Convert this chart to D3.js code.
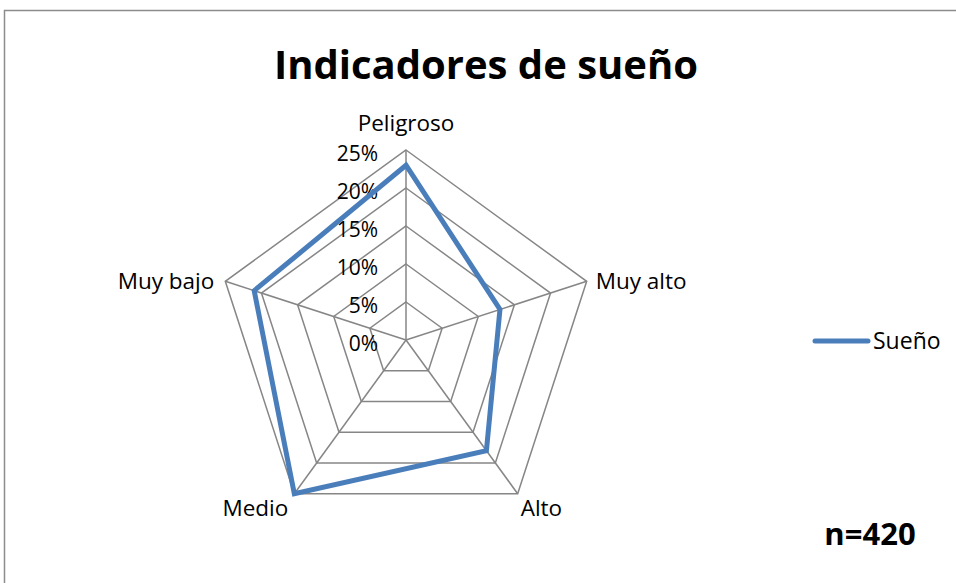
<!doctype html>
<html>
<head>
<meta charset="utf-8">
<script src="https://cdn.jsdelivr.net/npm/d3@7/dist/d3.min.js"></script>
<style>
  body { margin: 0; background: #fff; }
  svg { display: block; font-family: "Open Sans", "Liberation Sans", sans-serif; }
</style>
</head>
<body>
<svg width="956" height="583"></svg>
<script>
// chart data
var categories = ["Peligroso", "Muy alto", "Alto", "Medio", "Muy bajo"];
var values = [0.23, 0.13, 0.18, 0.25, 0.21];
var ticks = [0, 0.05, 0.10, 0.15, 0.20, 0.25];
var seriesName = "Sueño";

var svg = d3.select("svg");
var cx = 406, cy = 340, R = 190;

svg.append("rect")
   .attr("x", 4.5).attr("y", 10.5)
   .attr("width", 960).attr("height", 600)
   .attr("fill", "#fff").attr("stroke", "#8c8c8c").attr("stroke-width", 1.5);

var r = d3.scaleLinear().domain([0, 0.25]).range([0, R]);
var angle = d3.scaleBand().domain(categories).range([0, 2 * Math.PI]);
function pt(c, v) {
  var a = angle(c);
  return [cx + r(v) * Math.sin(a), cy - r(v) * Math.cos(a)];
}

var g = svg.append("g");

// grid rings
ticks.forEach(function(t) {
  if (t === 0) return;
  g.append("polygon")
   .attr("points", categories.map(function(c) { return pt(c, t).join(","); }).join(" "))
   .attr("fill", "none").attr("stroke", "#868686").attr("stroke-width", 1.5);
});
// spokes
categories.forEach(function(c) {
  var p = pt(c, 0.25);
  g.append("line").attr("x1", cx).attr("y1", cy).attr("x2", p[0]).attr("y2", p[1])
   .attr("stroke", "#868686").attr("stroke-width", 1.5);
});

// tick labels
g.selectAll(".tick").data(ticks).enter().append("text")
 .attr("x", cx - 28).attr("y", function(d) { return cy - r(d) + 11; })
 .attr("text-anchor", "end").attr("font-size", 21).attr("fill", "#000")
 .text(d3.format(".0%"));

// series
var line = d3.line().curve(d3.curveLinearClosed);
g.append("path")
 .attr("d", line(categories.map(function(c, i) { return pt(c, values[i]); })))
 .attr("fill", "none").attr("stroke", "#4a7ebb").attr("stroke-width", 5)
 .attr("stroke-linejoin", "miter");

// category labels
var lab = [
  { dx: 0, dy: -19, anchor: "middle" },
  { dx: 9, dy: 8, anchor: "start" },
  { dx: 3, dy: 22, anchor: "start" },
  { dx: -6, dy: 22, anchor: "end" },
  { dx: -11, dy: 8, anchor: "end" }
];
categories.forEach(function(c, i) {
  var p = pt(c, 0.25);
  g.append("text").attr("x", p[0] + lab[i].dx).attr("y", p[1] + lab[i].dy)
   .attr("text-anchor", lab[i].anchor).attr("font-size", 22.5).attr("fill", "#000")
   .text(c);
});

// title
svg.append("text").attr("x", 486).attr("y", 79).attr("text-anchor", "middle")
   .attr("font-size", 40).attr("font-weight", "bold").attr("fill", "#000")
   .text("Indicadores de sueño");

// legend
svg.append("line").attr("x1", 815).attr("x2", 868).attr("y1", 341).attr("y2", 341)
   .attr("stroke", "#4a7ebb").attr("stroke-width", 5).attr("stroke-linecap", "round");
svg.append("text").attr("x", 873).attr("y", 349).attr("font-size", 23).attr("fill", "#000")
   .text(seriesName);

// sample size
svg.append("text").attr("x", 870).attr("y", 545).attr("text-anchor", "middle")
   .attr("font-size", 31).attr("font-weight", "bold").attr("fill", "#000")
   .text("n=420");
</script>
</body>
</html>
